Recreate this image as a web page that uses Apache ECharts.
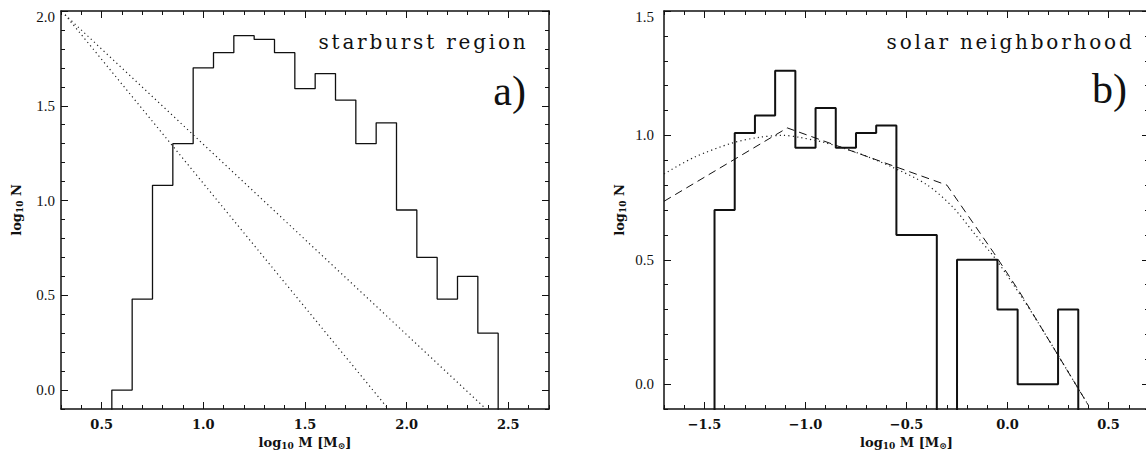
<!DOCTYPE html>
<html><head><meta charset="utf-8">
<script src="https://cdn.jsdelivr.net/npm/echarts@6/dist/echarts.min.js"></script>
<style>
html,body{margin:0;padding:0;background:#fff;}
#c{width:1146px;height:454px;}
#c text[style*="spacedA"]{letter-spacing:2.8px;}
</style></head><body><div id="c"></div>
<script>
// ---------- Panel a) starburst region ----------
const binWidth = 0.1;
const binLeftA = [0.55,0.65,0.75,0.85,0.95,1.05,1.15,1.25,1.35,1.45,1.55,1.65,1.75,1.85,1.95,2.05,2.15,2.25,2.35];
const logNA    = [0.00,0.48,1.08,1.30,1.70,1.78,1.87,1.85,1.78,1.59,1.67,1.53,1.30,1.41,0.95,0.70,0.48,0.60,0.30];
const powerFlatX  = [0.32, 2.39];
const powerFlatY  = [1.98, -0.10];
const powerSteepX = [0.32, 1.91];
const powerSteepY = [1.98, -0.10];
const xTicksA = [0.5, 1.0, 1.5, 2.0, 2.5];
const yTicksA = [0.0, 0.5, 1.0, 1.5, 2.0];

// ---------- Panel b) solar neighborhood ----------
const binLeftB = [-1.45,-1.35,-1.25,-1.15,-1.05,-0.95,-0.85,-0.75,-0.65,-0.55,-0.45,-0.35,-0.25,-0.15,-0.05,0.05,0.15,0.25];
const logNB    = [0.70,1.01,1.08,1.26,0.95,1.11,0.95,1.01,1.04,0.60,0.60,null,0.50,0.50,0.30,0.00,0.00,0.30];
const imfDottedX = [-1.70,-1.55,-1.36,-1.23,-1.11,-1.03,-0.90,-0.73,-0.57,-0.40,-0.27,-0.17,-0.06,0.07,0.15,0.25,0.35,0.40];
const imfDottedY = [0.845,0.912,0.970,0.992,1.000,0.992,0.970,0.926,0.872,0.802,0.711,0.611,0.504,0.350,0.249,0.116,-0.018,-0.085];
const imfDashedX = [-1.70,-1.09,-0.30,-0.07,0.06,0.25,0.40];
const imfDashedY = [0.735,1.03,0.80,0.53,0.37,0.116,-0.085];
const xTicksB = [-1.5, -1.0, -0.5, 0.0, 0.5];
const yTicksB = [0.0, 0.5, 1.0, 1.5];

const INK = '#111';
const SERIF = '"DejaVu Serif", serif';
const TIMES = '"Liberation Serif", serif';

function stepPoints(lefts, vals, w) {
  const floor = -5;
  const pts = [[lefts[0], floor]];
  lefts.forEach((lo, i) => {
    const v = vals[i] == null ? floor : vals[i];
    pts.push([lo, v], [lo + w, v]);
  });
  pts.push([lefts[lefts.length - 1] + w, floor]);
  return pts;
}
function zip(xs, ys) { return xs.map((x, i) => [x, ys[i]]); }
function fmt(v) { return v.toFixed(1).replace('-', '\u2212'); }

const nameStyle = {
  fontFamily: SERIF, fontSize: 13, fontWeight: 'bold', color: INK,
  rich: { s: { fontFamily: SERIF, fontSize: 9, fontWeight: 'bold', color: INK, verticalAlign: 'bottom', padding: [7, 0, 0, 0] } }
};

function xAxesFor(g, min, max, majors, name) {
  const base = { type: 'value', gridIndex: g, min, max, splitLine: { show: false } };
  const line = { show: true, onZero: false, lineStyle: { color: INK, width: 1.5 } };
  const tickStyle = { color: INK, width: 1 };
  return [
    Object.assign({}, base, { position: 'bottom', interval: 0.1, axisLine: line,
      axisTick: { show: true, inside: true, length: 4, lineStyle: tickStyle },
      axisLabel: { show: true, customValues: majors, formatter: fmt, margin: 9, color: INK, fontFamily: SERIF, fontWeight: 'bold', fontSize: 13 },
      name, nameLocation: 'middle', nameGap: 25, nameTextStyle: nameStyle }),
    Object.assign({}, base, { position: 'bottom', axisLine: { show: false, onZero: false },
      axisTick: { show: true, inside: true, length: 7, customValues: majors, lineStyle: tickStyle }, axisLabel: { show: false } }),
    Object.assign({}, base, { position: 'top', interval: 0.1, axisLine: line,
      axisTick: { show: true, inside: true, length: 4, lineStyle: tickStyle }, axisLabel: { show: false } }),
    Object.assign({}, base, { position: 'top', axisLine: { show: false, onZero: false },
      axisTick: { show: true, inside: true, length: 7, customValues: majors, lineStyle: tickStyle }, axisLabel: { show: false } })
  ];
}
function yAxesFor(g, min, max, majors, name, margin) {
  const base = { type: 'value', gridIndex: g, min, max, splitLine: { show: false } };
  const line = { show: true, onZero: false, lineStyle: { color: INK, width: 1.5 } };
  const tickStyle = { color: INK, width: 1 };
  return [
    Object.assign({}, base, { position: 'left', interval: 0.1, axisLine: line,
      axisTick: { show: true, inside: true, length: 4, lineStyle: tickStyle },
      axisLabel: { show: true, customValues: majors, margin, color: INK, fontFamily: TIMES, fontSize: 15,
        formatter: v => Math.abs(v - max) < 1e-9 ? '{t|' + fmt(v) + '}' : fmt(v),
        rich: { t: { fontFamily: TIMES, fontSize: 15, color: INK, padding: [11, 0, 0, 0] } } },
      name, nameLocation: 'middle', nameRotate: 90, nameGap: 37, nameTextStyle: nameStyle }),
    Object.assign({}, base, { position: 'left', axisLine: { show: false, onZero: false },
      axisTick: { show: true, inside: true, length: 7, customValues: majors, lineStyle: tickStyle }, axisLabel: { show: false } }),
    Object.assign({}, base, { position: 'right', interval: 0.1, axisLine: line,
      axisTick: { show: true, inside: true, length: 4, lineStyle: tickStyle }, axisLabel: { show: false } }),
    Object.assign({}, base, { position: 'right', axisLine: { show: false, onZero: false },
      axisTick: { show: true, inside: true, length: 7, customValues: majors, lineStyle: tickStyle }, axisLabel: { show: false } })
  ];
}

const xName = 'log{s|10} M [M{s|\u2299}]';
const yName = 'log{s|10} N';

const chart = echarts.init(document.getElementById('c'), null, { renderer: 'svg', width: 1146, height: 454 });
const lineBase = { type: 'line', showSymbol: false, symbol: 'none', clip: true, animation: false, silent: true };
const dotted = { color: '#222', width: 1.2, type: [1.2, 3.2] };

chart.setOption({
  backgroundColor: '#fff',
  animation: false,
  grid: [
    { left: 61, top: 11, width: 488, height: 398, containLabel: false, outerBoundsMode: 'none' },
    { left: 664, top: 11, width: 485, height: 398, containLabel: false, outerBoundsMode: 'none' }
  ],
  xAxis: [].concat(
    xAxesFor(0, 0.3, 2.7, xTicksA, xName),
    xAxesFor(1, -1.7, 0.7, xTicksB, xName)
  ),
  yAxis: [].concat(
    yAxesFor(0, -0.1, 2.0, yTicksA, yName, 6),
    yAxesFor(1, -0.1, 1.5, yTicksB, yName, 10)
  ),
  series: [
    Object.assign({}, lineBase, { name: 'starburst histogram', xAxisIndex: 0, yAxisIndex: 0,
      data: stepPoints(binLeftA, logNA, binWidth), lineStyle: { color: INK, width: 1.3 } }),
    Object.assign({}, lineBase, { name: 'slope -1', xAxisIndex: 0, yAxisIndex: 0,
      data: zip(powerFlatX, powerFlatY), lineStyle: dotted }),
    Object.assign({}, lineBase, { name: 'slope -1.35', xAxisIndex: 0, yAxisIndex: 0,
      data: zip(powerSteepX, powerSteepY), lineStyle: dotted }),
    Object.assign({}, lineBase, { name: 'solar histogram', xAxisIndex: 4, yAxisIndex: 4,
      data: stepPoints(binLeftB, logNB, binWidth), lineStyle: { color: INK, width: 2 } }),
    Object.assign({}, lineBase, { name: 'IMF dotted', xAxisIndex: 4, yAxisIndex: 4, smooth: 0.3,
      data: zip(imfDottedX, imfDottedY), lineStyle: dotted }),
    Object.assign({}, lineBase, { name: 'IMF dashed', xAxisIndex: 4, yAxisIndex: 4,
      data: zip(imfDashedX, imfDashedY), lineStyle: { color: INK, width: 1, type: [8, 5] } })
  ],
  graphic: [
    { type: 'text', x: 528.5, y: 42, silent: true, style: { text: 'starburst region', font: '20px "DejaVu Serif", spacedA, serif', fill: INK, align: 'right', verticalAlign: 'middle', textAlign: 'right', textVerticalAlign: 'middle' } },
    { type: 'text', x: 526, y: 91, silent: true, style: { text: 'a)', font: '42px "Liberation Serif", serif', fill: INK, align: 'right', verticalAlign: 'middle', textAlign: 'right', textVerticalAlign: 'middle' } },
    { type: 'text', x: 1134.5, y: 41.5, silent: true, style: { text: 'solar neighborhood', font: '20px "DejaVu Serif", spacedA, serif', fill: INK, align: 'right', verticalAlign: 'middle', textAlign: 'right', textVerticalAlign: 'middle' } },
    { type: 'text', x: 1127, y: 89, silent: true, style: { text: 'b)', font: '42px "Liberation Serif", serif', fill: INK, align: 'right', verticalAlign: 'middle', textAlign: 'right', textVerticalAlign: 'middle' } }
  ]
});
</script></body></html>
